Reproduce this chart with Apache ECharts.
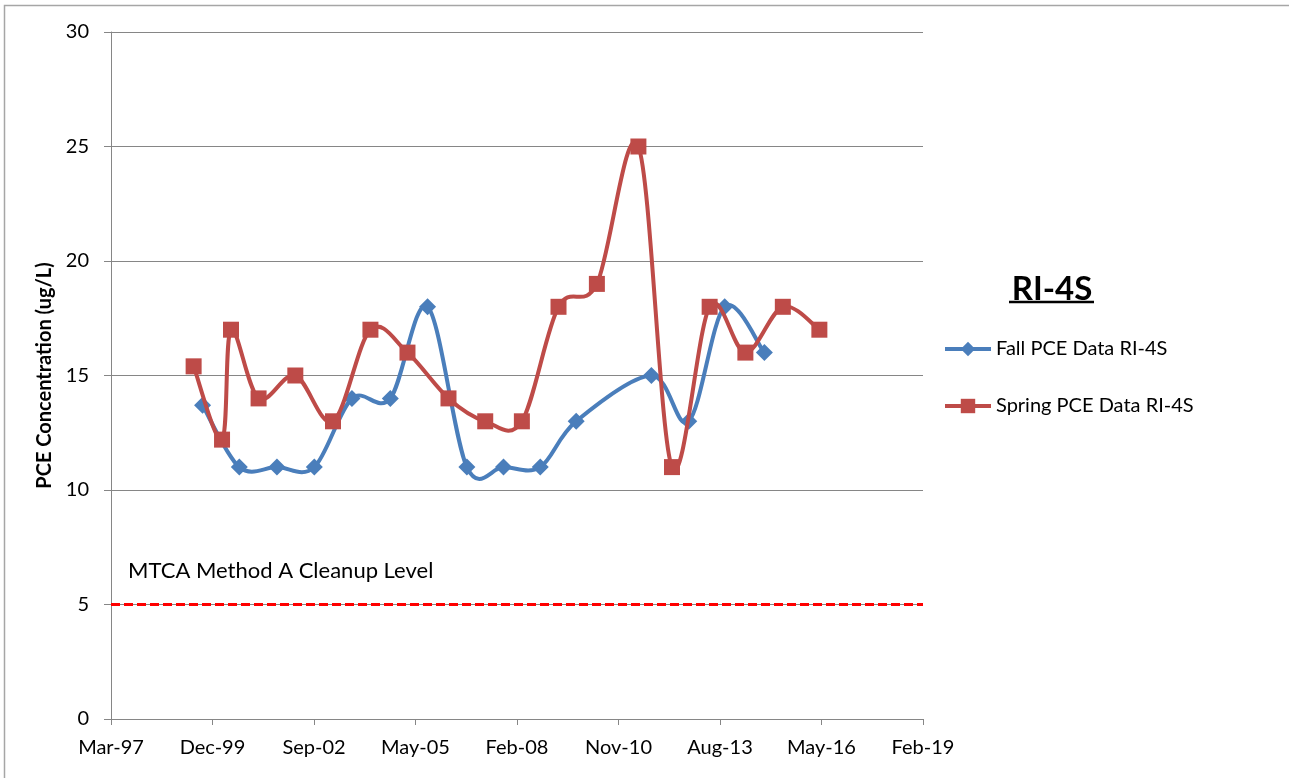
<!DOCTYPE html>
<html>
<head>
<meta charset="utf-8">
<title>RI-4S PCE Concentration</title>
<script src="https://cdn.jsdelivr.net/npm/echarts@6/dist/echarts.min.js"></script>
<style>
  html, body { margin: 0; padding: 0; background: #ffffff; }
  #chart { width: 1289px; height: 778px; }
</style>
</head>
<body>
<div id="chart"></div>
<script>
// Sampling dates and PCE results (ug/L) for well RI-4S
const fallDates = [
  '1999-08-30', '2000-08-26', '2001-09-01', '2002-09-04', '2003-09-10',
  '2004-09-22', '2005-09-24', '2006-10-16', '2007-10-12', '2008-10-08',
  '2009-09-27', '2011-10-08', '2012-10-10', '2013-09-29', '2014-10-25'
];
const fallValues = [13.7, 11, 11, 11, 14, 14, 18, 11, 11, 11, 13, 15, 13, 18, 16];

const springDates = [
  '1999-06-03', '2000-03-09', '2000-06-05', '2001-03-04', '2002-03-01',
  '2003-03-07', '2004-03-10', '2005-03-10', '2006-04-18', '2007-04-15',
  '2008-04-10', '2009-04-06', '2010-04-19', '2011-06-02', '2012-04-28',
  '2013-05-04', '2014-04-21', '2015-04-25', '2016-04-19'
];
const springValues = [15.4, 12.2, 17, 14, 15, 13, 17, 16, 14, 13, 13, 18, 19, 25, 11, 18, 16, 18, 17];

// MTCA Method A cleanup level for PCE
const cleanupLevel = 5;

const seriesNames = ['Fall PCE Data RI-4S', 'Spring PCE Data RI-4S'];
const monthNames = ['Jan', 'Feb', 'Mar', 'Apr', 'May', 'Jun', 'Jul', 'Aug', 'Sep', 'Oct', 'Nov', 'Dec'];

// The date axis runs in days counted from 11 Mar 1997, with a tick every 1000 days
const DAY = 86400000;
const ORIGIN = Date.UTC(1997, 2, 11);
function dayNumber(s) {
  const p = s.split('-').map(Number);
  return (Date.UTC(p[0], p[1] - 1, p[2]) - ORIGIN) / DAY;
}
function dayLabel(v) {
  const d = new Date(ORIGIN + Math.round(v) * DAY);
  return monthNames[d.getUTCMonth()] + '-' + String(d.getUTCFullYear() % 100).padStart(2, '0');
}
function pairs(dates, values) {
  return dates.map((s, i) => [dayNumber(s), values[i]]);
}
// Each row holds the previous, start, end and following point of one curve segment
function segments(points) {
  const rows = [];
  for (let i = 0; i < points.length - 1; i++) {
    const p0 = points[Math.max(i - 1, 0)];
    const p3 = points[Math.min(i + 2, points.length - 1)];
    rows.push([p0[0], p0[1], points[i][0], points[i][1], points[i + 1][0], points[i + 1][1], p3[0], p3[1]]);
  }
  return rows;
}

const fallPoints = pairs(fallDates, fallValues);
const springPoints = pairs(springDates, springValues);

const FONT = 'Lato, "Open Sans", sans-serif';
const GRID_GRAY = '#868686';
const BLUE = '#4A7EBB';
const RED = '#BE4B48';
const LINE_WIDTH = 4;

// Smoothed segment: cubic Bezier with Catmull-Rom control points in pixel space
function curveRenderer(color) {
  return function (params, api) {
    const p0 = api.coord([api.value(0), api.value(1)]);
    const p1 = api.coord([api.value(2), api.value(3)]);
    const p2 = api.coord([api.value(4), api.value(5)]);
    const p3 = api.coord([api.value(6), api.value(7)]);
    return {
      type: 'bezierCurve',
      shape: {
        x1: p1[0], y1: p1[1],
        x2: p2[0], y2: p2[1],
        cpx1: p1[0] + (p2[0] - p0[0]) / 6,
        cpy1: p1[1] + (p2[1] - p0[1]) / 6,
        cpx2: p2[0] - (p3[0] - p1[0]) / 6,
        cpy2: p2[1] - (p3[1] - p1[1]) / 6
      },
      style: { stroke: color, lineWidth: LINE_WIDTH, fill: 'none', lineCap: 'round' }
    };
  };
}

const chart = echarts.init(document.getElementById('chart'), null, { renderer: 'canvas' });

chart.setOption({
  backgroundColor: '#ffffff',
  animation: false,
  textStyle: { fontFamily: FONT },
  legend: {
    data: [
      { name: seriesNames[0], lineStyle: { color: BLUE, width: LINE_WIDTH, opacity: 1 } },
      { name: seriesNames[1], lineStyle: { color: RED, width: LINE_WIDTH, opacity: 1 } }
    ],
    orient: 'vertical',
    left: 938,
    top: 334,
    itemWidth: 46,
    itemHeight: 18,
    itemGap: 37,
    textStyle: { fontFamily: FONT, fontSize: 20, color: '#000000', lineHeight: 18 }
  },
  grid: { left: 111, right: 366, top: 32, bottom: 59, containLabel: false },
  xAxis: {
    type: 'value',
    min: 0,
    max: 8000,
    interval: 1000,
    axisLine: { show: true, onZero: false, lineStyle: { color: GRID_GRAY, width: 1 } },
    axisTick: { show: true, length: 6, lineStyle: { color: GRID_GRAY } },
    splitLine: { show: false },
    axisLabel: { color: '#000000', fontSize: 20, fontFamily: FONT, margin: 19, formatter: dayLabel }
  },
  yAxis: {
    type: 'value',
    min: 0,
    max: 30,
    interval: 5,
    name: 'PCE Concentration (ug/L)',
    nameLocation: 'middle',
    nameGap: 53,
    nameTextStyle: { fontFamily: FONT, fontWeight: 'bold', fontSize: 20, color: '#000000' },
    axisLine: { show: true, lineStyle: { color: GRID_GRAY, width: 1 } },
    axisTick: { show: true, length: 7, lineStyle: { color: GRID_GRAY } },
    splitLine: { show: true, lineStyle: { color: GRID_GRAY, width: 1 } },
    axisLabel: { color: '#000000', fontSize: 20, fontFamily: FONT, margin: 22 }
  },
  series: [
    {
      name: 'Fall curve',
      type: 'custom',
      silent: true,
      z: 2,
      data: segments(fallPoints),
      encode: { x: [0, 2, 4, 6], y: [1, 3, 5, 7] },
      renderItem: curveRenderer(BLUE)
    },
    {
      name: seriesNames[0],
      type: 'line',
      data: fallPoints,
      symbol: 'diamond',
      symbolSize: 17,
      lineStyle: { color: BLUE, width: LINE_WIDTH, opacity: 0 },
      itemStyle: { color: BLUE },
      z: 3,
      markLine: {
        silent: true,
        symbol: ['none', 'none'],
        label: { show: false },
        lineStyle: { color: '#FF0000', type: [9, 4], width: 3, opacity: 1 },
        data: [{ yAxis: cleanupLevel }]
      }
    },
    {
      name: 'Spring curve',
      type: 'custom',
      silent: true,
      z: 4,
      data: segments(springPoints),
      encode: { x: [0, 2, 4, 6], y: [1, 3, 5, 7] },
      renderItem: curveRenderer(RED)
    },
    {
      name: seriesNames[1],
      type: 'line',
      data: springPoints,
      symbol: 'rect',
      symbolSize: 16,
      lineStyle: { color: RED, width: LINE_WIDTH, opacity: 0 },
      itemStyle: { color: RED },
      z: 5
    }
  ],
  graphic: [
    {
      type: 'rect',
      silent: true,
      shape: { x: 4.5, y: 5.5, width: 1300, height: 800 },
      style: { fill: 'none', stroke: '#A6A6A6', lineWidth: 1.5 }
    },
    {
      type: 'text',
      silent: true,
      left: 128,
      top: 560,
      style: { text: 'MTCA Method A Cleanup Level', fontFamily: FONT, fontSize: 22, fill: '#000000' }
    },
    {
      // chart heading with its underline
      type: 'text',
      silent: true,
      x: 1052,
      y: 289,
      style: {
        text: 'RI-4S', fontFamily: FONT, fontWeight: 'bold', fontSize: 33, fill: '#000000',
        align: 'center', verticalAlign: 'middle'
      }
    },
    {
      type: 'line',
      silent: true,
      shape: { x1: 1009, y1: 302, x2: 1094, y2: 302 },
      style: { stroke: '#000000', lineWidth: 2.5 }
    }
  ]
});
</script>
</body>
</html>
